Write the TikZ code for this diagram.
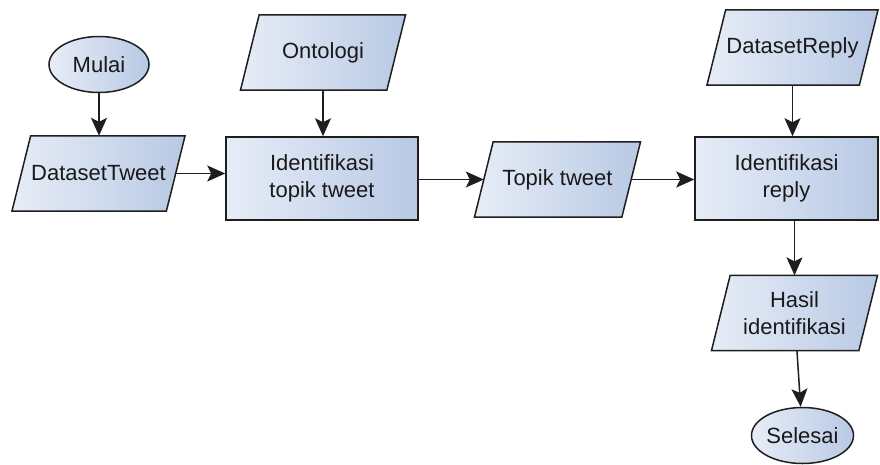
\documentclass[tikz,border=0pt]{standalone}
\usepackage{fontspec}
\setmainfont{Liberation Sans}
\usetikzlibrary{shapes.geometric}
\usetikzlibrary{arrows.meta}

\definecolor{boxleft}{RGB}{231,237,247}
\definecolor{boxright}{RGB}{184,201,228}
\definecolor{boxline}{RGB}{30,30,30}

\pgfdeclarelayer{background}
\pgfsetlayers{background,main}

\tikzset{
    isi/.style={draw=boxline, line width=1.5pt, left color=boxleft, right color=boxright},
    base/.style={font=\fontsize{22}{27}\selectfont, align=center, inner sep=2pt, text=black!90},
    terminal/.style={base, isi, ellipse, inner sep=0pt, minimum width=100pt, minimum height=56pt},
    proses/.style={base, isi, rectangle, minimum height=83pt},
    data/.style={base, rectangle, minimum height=75pt},
    panah/.style={-{Stealth[length=18pt,width=16pt,inset=4pt]}, line width=1.5pt, draw=boxline}
}

% jajar genjang di belakang node data
\newcommand{\jajar}[1]{
    \path[isi] ([xshift=-9.35pt]#1.south west) -- ([xshift=-9.35pt]#1.south east)
        -- ([xshift=9.35pt]#1.north east) -- ([xshift=9.35pt]#1.north west) -- cycle;
}

\begin{document}
\begin{tikzpicture}[x=1pt, y=-1pt]
    \useasboundingbox (0,0) rectangle (880,464);

    \node[terminal] (mulai) at (99,64.5) {Mulai};
    \node[data, minimum width=154pt] (dtweet) at (98.5,173.5) {DatasetTweet};
    \node[data, minimum width=146pt] (ontologi) at (323,52.5) {Ontologi};
    \node[proses, minimum width=192pt] (idtopik) at (322,178.5) {Identifikasi\\topik tweet};
    \node[data, minimum width=147pt] (topik) at (557.5,179.5) {Topik tweet};
    \node[data, minimum width=152pt] (dreply) at (792.5,47.5) {DatasetReply};
    \node[proses, minimum width=183pt] (idreply) at (786.5,178.5) {Identifikasi\\reply};
    \node[data, minimum width=147pt] (hasil) at (794.5,313) {Hasil\\identifikasi};
    \node[terminal] (selesai) at (802.5,435.5) {Selesai};

    \begin{pgfonlayer}{background}
        \jajar{dtweet}
        \jajar{ontologi}
        \jajar{topik}
        \jajar{dreply}
        \jajar{hasil}
    \end{pgfonlayer}

    \draw[panah] (mulai.south) -- (mulai.south |- dtweet.north);
    \draw[panah] (ontologi.south) -- (ontologi.south |- idtopik.north);
    \draw[panah] (dtweet.east) -- (dtweet.east -| idtopik.west);
    \draw[panah] (idtopik.east |- topik.west) -- (topik.west);
    \draw[panah] (topik.east) -- (topik.east -| idreply.west);
    \draw[panah] (dreply.south) -- (dreply.south |- idreply.north);
    \draw[panah] (hasil.north |- idreply.south) -- (hasil.north);
    \draw[panah] (hasil) -- (selesai);
\end{tikzpicture}
\end{document}
